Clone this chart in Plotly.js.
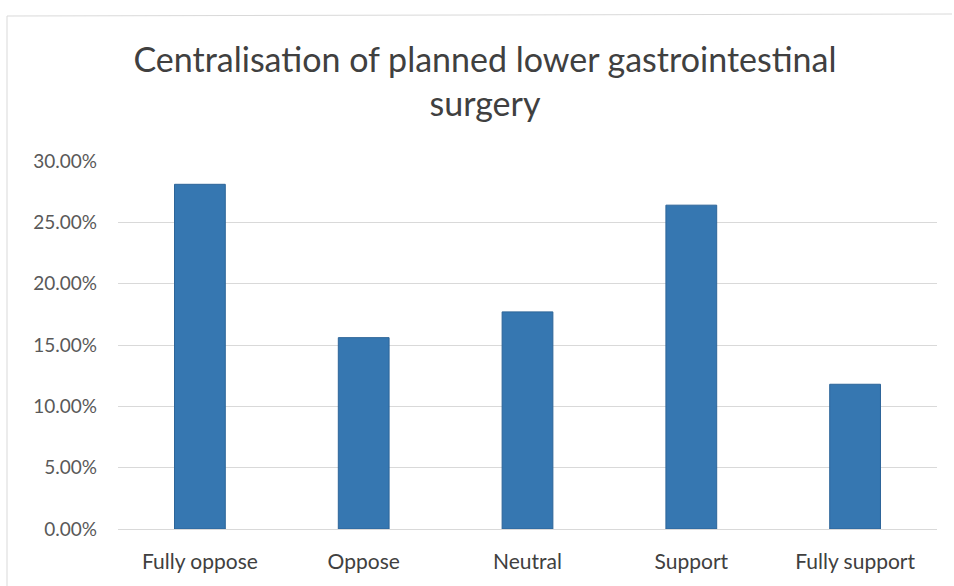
<!DOCTYPE html>
<html>
<head>
<meta charset="utf-8">
<script src="https://cdn.plot.ly/plotly-3.0.1.min.js"></script>
<style>
  html, body { margin: 0; padding: 0; background: #ffffff; }
  #chart { width: 954px; height: 586px; }
</style>
</head>
<body>
<div id="chart"></div>
<script>
// Survey responses on centralising planned lower GI surgery
const categories = ["Fully oppose", "Oppose", "Neutral", "Support", "Fully support"];
const shares = [0.281, 0.156, 0.177, 0.264, 0.118];
const yTicks = [0, 0.05, 0.10, 0.15, 0.20, 0.25, 0.30];

const W = 954, H = 586;
const margin = { l: 118, r: 17, t: 161, b: 57 };
const plotW = W - margin.l - margin.r;
const plotH = H - margin.t - margin.b;

const trace = {
  type: "bar",
  x: categories,
  y: shares,
  marker: { color: "#3677b1", line: { color: "#2d6599", width: 1 } },
  hoverinfo: "x+y"
};

const layout = {
  width: W,
  height: H,
  margin: margin,
  paper_bgcolor: "#ffffff",
  plot_bgcolor: "#ffffff",
  showlegend: false,
  bargap: 0.69,
  font: { family: "Lato, 'Noto Sans', sans-serif", color: "#404040" },
  title: {
    text: "Centralisation of planned lower gastrointestinal<br>surgery",
    x: 485 / W,
    xanchor: "center",
    y: 1 - 72 / H,
    yanchor: "top",
    font: { family: "Lato, 'Noto Sans', sans-serif", size: 34, color: "#404040" }
  },
  xaxis: {
    type: "category",
    showgrid: false,
    showline: true,
    linecolor: "#d9d9d9",
    linewidth: 1,
    ticks: "",
    ticklabelstandoff: 14,
    tickfont: { size: 21, color: "#404040" }
  },
  yaxis: {
    range: [0, 0.30],
    tickvals: yTicks,
    tickformat: ".2%",
    showgrid: true,
    gridcolor: "#d9d9d9",
    gridwidth: 1,
    zeroline: false,
    showline: false,
    ticks: "",
    ticklabelstandoff: 20,
    tickfont: { size: 19, color: "#595959" }
  },
  shapes: [
    // chart frame: top and left edges
    { type: "line", xref: "paper", yref: "paper",
      x0: (7 - margin.l) / plotW, x1: (952 - margin.l) / plotW,
      y0: 1 + (margin.t - 16) / plotH, y1: 1 + (margin.t - 14) / plotH,
      line: { color: "#d9d9d9", width: 1 } },
    { type: "line", xref: "paper", yref: "paper",
      x0: (7 - margin.l) / plotW, x1: (7 - margin.l) / plotW,
      y0: 1 + (margin.t - 16) / plotH, y1: -(margin.b) / plotH,
      line: { color: "#d9d9d9", width: 1 } }
  ]
};

Plotly.newPlot("chart", [trace], layout, { displayModeBar: false, staticPlot: true });
</script>
</body>
</html>
